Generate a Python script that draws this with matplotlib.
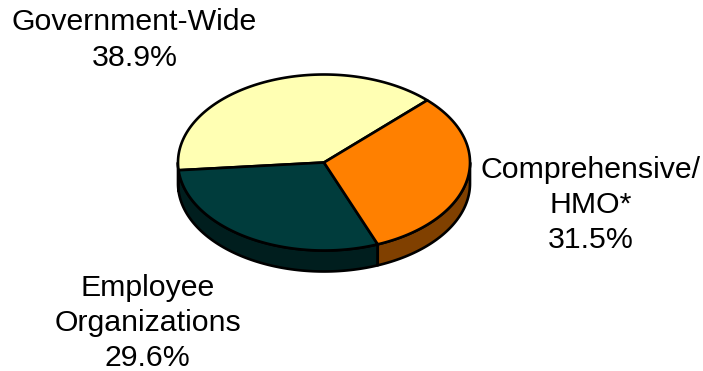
import numpy as np
import matplotlib
matplotlib.use('Agg')
import matplotlib.pyplot as plt
from matplotlib.patches import Polygon

labels = ['Government-Wide\n38.9%', 'Employee\nOrganizations\n29.6%', 'Comprehensive/\nHMO*\n31.5%']
values = [38.9, 29.6, 31.5]
top_colors = ['#ffffb3', '#003c3c', '#ff8000']
side_colors = ['#80805a', '#001e1e', '#804000']

CX, CY = 324, 162.5
RX, RY = 146, 88
DEPTH = 21
START = 45

def rim(a0, a1, cy=CY):
    t = np.radians(np.linspace(a0, a1, 200))
    return np.column_stack([CX + RX * np.cos(t), cy - RY * np.sin(t)])

fig = plt.figure(figsize=(7.03, 3.71), dpi=100)
ax = fig.add_axes([0, 0, 1, 1])
ax.set_xlim(0, 703)
ax.set_ylim(371, 0)
ax.axis('off')

angles = START + np.cumsum([0] + values) * 3.6

# side wall first, only the front half shows
for i in range(len(values)):
    a0 = max(angles[i], 180)
    a1 = min(angles[i + 1], 360)
    if a1 <= a0:
        continue
    pts = np.vstack([rim(a0, a1), rim(a0, a1, CY + DEPTH)[::-1]])
    ax.add_patch(Polygon(pts, closed=True, fc=side_colors[i], ec='black', lw=1.9, joinstyle='round'))

# top face
for i in range(len(values)):
    pts = np.vstack([[CX, CY], rim(angles[i], angles[i + 1])])
    ax.add_patch(Polygon(pts, closed=True, fc=top_colors[i], ec='black', lw=1.9, joinstyle='round'))

label_pos = [(134.5, 40), (147.5, 323), (590.5, 205)]
for txt, (x, y) in zip(labels, label_pos):
    ax.text(x, y, txt, ha='center', va='center', fontsize=21.8,
            family='Liberation Sans', linespacing=1.34, color='black')

fig.savefig('out.png', dpi=100)
